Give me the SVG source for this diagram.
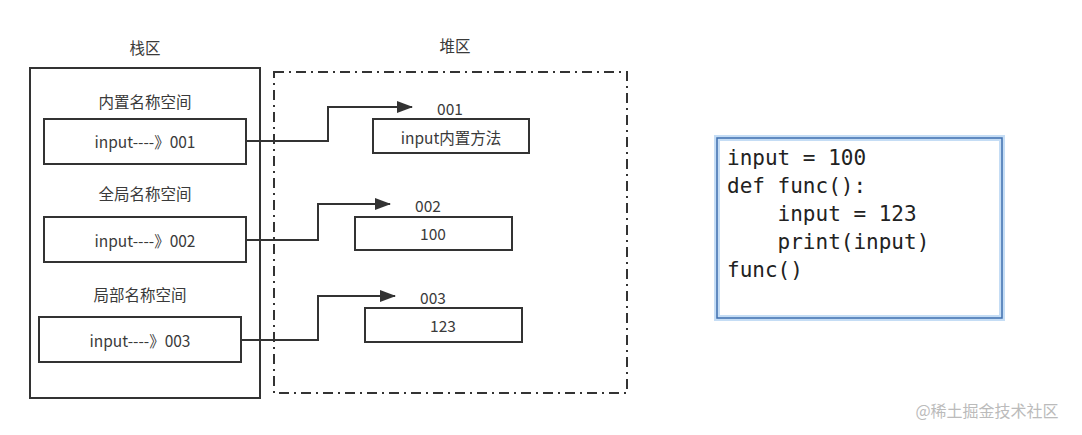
<svg xmlns="http://www.w3.org/2000/svg" width="1082" height="435" viewBox="0 0 1082 435">
<style>
.t{font-family:"Noto Sans CJK SC","Microsoft YaHei",sans-serif;font-size:15.5px;fill:#3a3a3a;text-anchor:middle;dominant-baseline:central}
.box{fill:#fff;stroke:#333;stroke-width:2}
.ln{fill:none;stroke:#333;stroke-width:2}
.code{font-family:"DejaVu Sans Mono",monospace;font-size:21px;fill:#222;white-space:pre}
</style>
<defs>
<marker id="ah" markerWidth="16" markerHeight="12" refX="15" refY="6" orient="auto" markerUnits="userSpaceOnUse">
<path d="M0,0 L16,6 L0,12 Z" fill="#333"/>
</marker>
</defs>
<rect width="1082" height="435" fill="#fff"/>
<g id="stack">
<rect x="30" y="68" width="230" height="330" class="box" fill="none"/>
<text x="145" y="47" class="t">栈区</text>
</g>
<g id="heap">
<rect x="274" y="72" width="353" height="321" fill="none" stroke="#333" stroke-width="2" stroke-dasharray="10 5 2 5"/>
<text x="455" y="45" class="t">堆区</text>
</g>
<g id="connectors">
<path d="M246,141 H328 V107 H412" class="ln" marker-end="url(#ah)"/>
<path d="M246,240 H318 V204 H390" class="ln" marker-end="url(#ah)"/>
<path d="M241,340 H318 V296 H395" class="ln" marker-end="url(#ah)"/>
</g>
<g id="ns1">
<text x="145" y="101" class="t">内置名称空间</text>
<rect x="44" y="119" width="202" height="45" class="box"/>
<text x="145" y="141" class="t">input----》001</text>
</g>
<g id="ns2">
<text x="145" y="193" class="t">全局名称空间</text>
<rect x="44" y="217" width="202" height="45" class="box"/>
<text x="145" y="240" class="t">input----》002</text>
</g>
<g id="ns3">
<text x="140" y="294" class="t">局部名称空间</text>
<rect x="39" y="317" width="202" height="45" class="box"/>
<text x="140" y="340" class="t">input----》003</text>
</g>
<g id="h1">
<text x="450" y="108" class="t">001</text>
<rect x="373" y="119" width="156" height="34" class="box"/>
<text x="451" y="137" class="t">input内置方法</text>
</g>
<g id="h2">
<text x="428" y="205" class="t">002</text>
<rect x="355" y="217" width="157" height="33" class="box"/>
<text x="433" y="233" class="t">100</text>
</g>
<g id="h3">
<text x="433" y="297" class="t">003</text>
<rect x="365" y="308" width="157" height="34" class="box"/>
<text x="443" y="325" class="t">123</text>
</g>
<g id="code">
<rect x="717" y="138" width="285" height="180" fill="#fff" stroke="#c5ddf5" stroke-width="6"/>
<rect x="717" y="138" width="285" height="180" fill="none" stroke="#3f6fae" stroke-width="1.5"/>
<text class="code" x="727" y="165">input = 100</text>
<text class="code" x="727" y="193">def func():</text>
<text class="code" x="727" y="221">    input = 123</text>
<text class="code" x="727" y="249">    print(input)</text>
<text class="code" x="727" y="277">func()</text>
</g>
<text x="987" y="410" font-family="Noto Sans CJK SC,sans-serif" font-size="16" fill="#bbb" text-anchor="middle" dominant-baseline="central">@稀土掘金技术社区</text>
</svg>
